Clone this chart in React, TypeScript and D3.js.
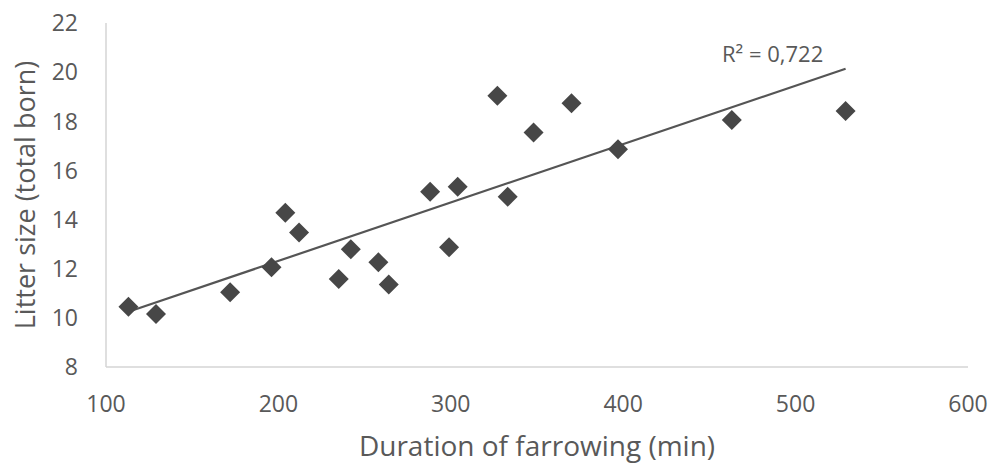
import React, { useRef, useEffect } from 'react';
import * as d3 from 'd3';

// duration of farrowing (min) vs litter size (total born)
const durations = [113, 129, 172, 196, 204, 212, 235, 242, 258, 264, 288, 304, 299, 327, 370, 348, 397, 333, 463, 529];
const litterSizes = [10.45, 10.16, 11.04, 12.06, 14.28, 13.47, 11.58, 12.79, 12.26, 11.36, 15.13, 15.34, 12.87, 19.04, 18.73, 17.54, 16.86, 14.93, 18.05, 18.42];
const xTicks = [100, 200, 300, 400, 500, 600];
const yTicks = [8, 10, 12, 14, 16, 18, 20, 22];
const r2Label = 'R² = 0,722';

const width = 995;
const height = 467;
const margin = { top: 23, right: 27, bottom: 100, left: 106 };
const font = '"Open Sans", sans-serif';
const textColor = '#595959';

const App = () => {
    const svgRef = useRef<SVGSVGElement>(null);

    useEffect(() => {
        const svg = d3.select(svgRef.current);
        svg.selectAll('*').remove();

        const x = d3.scaleLinear().domain([100, 600]).range([margin.left, width - margin.right]);
        const y = d3.scaleLinear().domain([8, 22]).range([height - margin.bottom, margin.top]);

        // axis lines
        svg.append('line')
            .attr('x1', x(100)).attr('x2', x(100))
            .attr('y1', y(22)).attr('y2', y(8))
            .attr('stroke', '#d4d4d4').attr('stroke-width', 1.5);
        svg.append('line')
            .attr('x1', x(100)).attr('x2', x(600))
            .attr('y1', y(8)).attr('y2', y(8))
            .attr('stroke', '#d4d4d4').attr('stroke-width', 1.5);

        // tick labels
        svg.append('g').selectAll('text')
            .data(yTicks).enter().append('text')
            .attr('x', 78).attr('y', d => y(d))
            .attr('dy', '0.36em')
            .attr('text-anchor', 'end')
            .attr('font-family', font).attr('font-size', 23)
            .attr('fill', textColor)
            .text(d => d);

        svg.append('g').selectAll('text')
            .data(xTicks).enter().append('text')
            .attr('x', d => x(d)).attr('y', 404)
            .attr('dy', '0.36em')
            .attr('text-anchor', 'middle')
            .attr('font-family', font).attr('font-size', 23)
            .attr('fill', textColor)
            .text(d => d);

        // axis titles
        svg.append('text')
            .attr('x', 537).attr('y', 446)
            .attr('dy', '0.36em')
            .attr('text-anchor', 'middle')
            .attr('font-family', font).attr('font-size', 28)
            .attr('fill', textColor)
            .text('Duration of farrowing (min)');

        svg.append('text')
            .attr('transform', `translate(25,${(y(8) + y(22)) / 2}) rotate(-90)`)
            .attr('dy', '0.36em')
            .attr('text-anchor', 'middle')
            .attr('font-family', font).attr('font-size', 27)
            .attr('fill', textColor)
            .text('Litter size (total born)');

        // linear trendline (least squares)
        const mx = d3.mean(durations)!;
        const my = d3.mean(litterSizes)!;
        const sxy = d3.sum(durations, (d, i) => (d - mx) * (litterSizes[i] - my));
        const sxx = d3.sum(durations, d => (d - mx) ** 2);
        const slope = sxy / sxx;
        const intercept = my - slope * mx;
        const [x0, x1] = d3.extent(durations) as [number, number];

        svg.append('line')
            .attr('x1', x(x0)).attr('y1', y(intercept + slope * x0))
            .attr('x2', x(x1)).attr('y2', y(intercept + slope * x1))
            .attr('stroke', '#555555').attr('stroke-width', 2.2);

        // markers
        const diamond = d3.symbol().type(d3.symbolSquare).size(200);
        svg.append('g').selectAll('path')
            .data(durations).enter().append('path')
            .attr('d', diamond)
            .attr('transform', (d, i) => `translate(${x(d)},${y(litterSizes[i])}) rotate(45)`)
            .attr('fill', '#474747');

        svg.append('text')
            .attr('x', 722).attr('y', 62)
            .attr('font-family', font).attr('font-size', 22)
            .attr('fill', textColor)
            .text(r2Label);
    }, []);

    return (
        <svg ref={svgRef} width={width} height={height}
            style={{ position: 'absolute', left: 0, top: 0, background: '#fff' }} />
    );
};

export default App;
